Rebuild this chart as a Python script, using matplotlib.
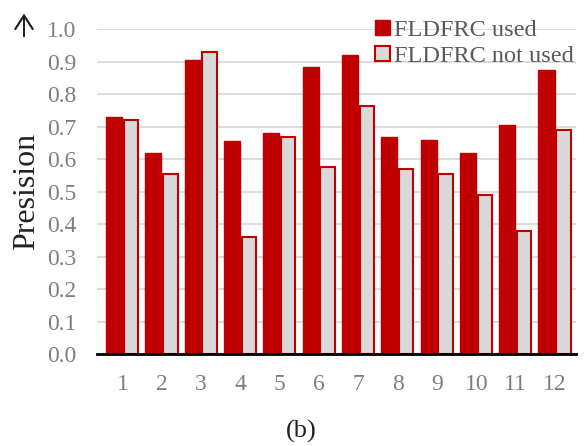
import numpy as np
import matplotlib
matplotlib.use("Agg")
import matplotlib.pyplot as plt
from matplotlib.patches import Patch

# values
groups = [str(i) for i in range(1, 13)]
used = [0.73, 0.62, 0.905, 0.655, 0.68, 0.885, 0.92, 0.67, 0.66, 0.62, 0.705, 0.875]
not_used = [0.72, 0.555, 0.93, 0.36, 0.67, 0.575, 0.765, 0.57, 0.555, 0.49, 0.38, 0.69]
yticks = [0.0, 0.1, 0.2, 0.3, 0.4, 0.5, 0.6, 0.7, 0.8, 0.9, 1.0]

RED = "#C00000"
GREY = "#D9D9D9"
TXT = "#7F7F7F"

plt.rcParams["font.family"] = ["Liberation Serif", "DejaVu Serif"]

fig = plt.figure(figsize=(5.84, 4.46), dpi=100)
ax = fig.add_axes([0.166, 0.206, 0.820, 0.728])

x = np.arange(len(groups))
w = 0.41
ax.bar(x - w / 2 - 0.01, used, width=w, color=RED, edgecolor=RED, linewidth=1.0, zorder=3)
ax.bar(x + w / 2 + 0.01, not_used, width=w - 0.04, color=GREY, edgecolor=RED, linewidth=1.5, zorder=3)

ax.set_xlim(-0.65, 11.53)
ax.set_ylim(0, 1.0)
ax.set_xticks(x)
ax.set_xticklabels(groups)
ax.set_yticks(yticks)
ax.set_yticklabels([f"{v:.1f}" for v in yticks])
ax.tick_params(axis="both", length=0, labelsize=17, colors=TXT)
ax.tick_params(axis="x", pad=14)
ax.tick_params(axis="y", pad=15)

ax.grid(axis="y", color=GREY, linewidth=1.3, zorder=0)
for s in ["top", "right", "left"]:
    ax.spines[s].set_visible(False)
ax.spines["bottom"].set_color("black")
ax.spines["bottom"].set_linewidth(2)
ax.spines["bottom"].set_zorder(4)

ax.set_ylabel("Presision", fontsize=23, color="#222222", labelpad=4)

handles = [Patch(facecolor=RED, edgecolor=RED, label="FLDFRC used"),
           Patch(facecolor=GREY, edgecolor=RED, linewidth=1.5, label="FLDFRC not used")]
leg = ax.legend(handles=handles, loc="upper right", bbox_to_anchor=(1.015, 1.06),
                frameon=False, fontsize=17.5, handlelength=0.6, handleheight=0.6,
                handletextpad=0.15, labelspacing=0.2, borderaxespad=0)
for t in leg.get_texts():
    t.set_color("#595959")

# thin up arrow in the top left corner
fig.add_artist(plt.annotate("", xy=(24, 446 - 11), xytext=(24, 446 - 39),
                            xycoords="figure pixels", textcoords="figure pixels",
                            arrowprops=dict(arrowstyle="->,head_length=0.7,head_width=0.45",
                                            color="#222222", lw=1.3, mutation_scale=14)))
fig.text(0.515, 0.032, "(b)", fontsize=19, ha="center", va="center", color="#222222")

fig.savefig("out.png", dpi=100)
